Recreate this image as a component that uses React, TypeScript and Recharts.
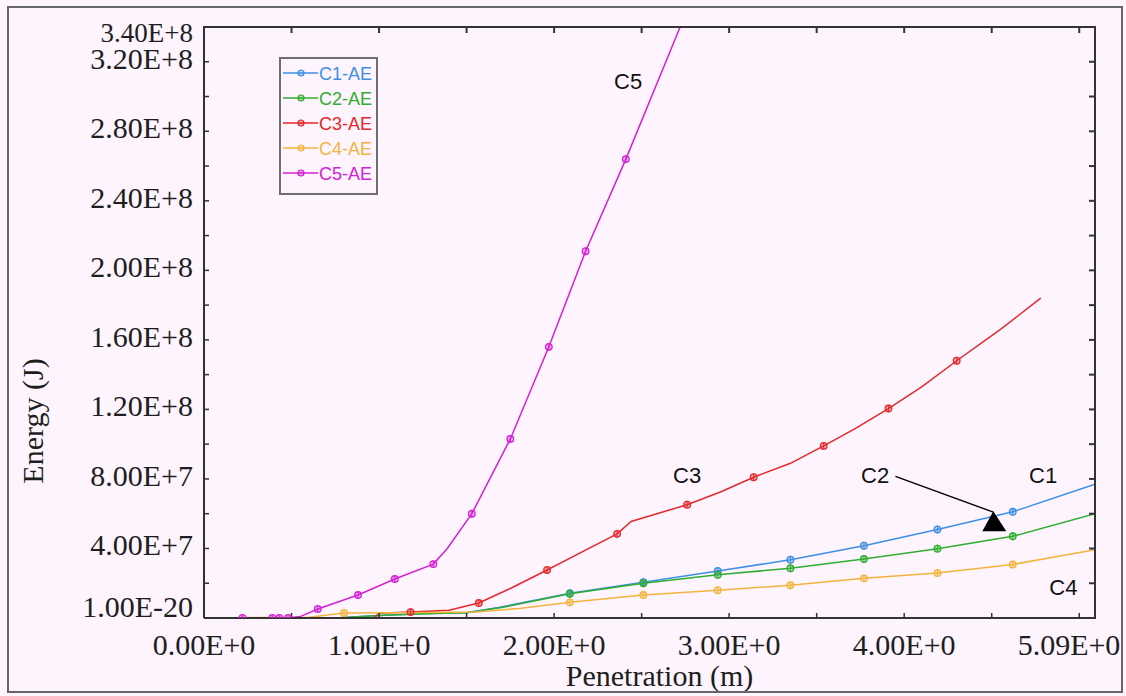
import React from 'react';
import { LineChart, Line, XAxis, YAxis, ReferenceDot, ReferenceLine, Legend } from 'recharts';

// ---------- axis ticks / labels ----------
const X_MAX = 5.09;
const Y_MAX = 340;
const X_TICKS = [0, 0.5, 1, 1.5, 2, 2.5, 3, 3.5, 4, 4.5, 5, 5.09];
const X_LABEL_AT = [0, 1, 2, 3, 4, 5.09];
const X_LABEL_TEXT = ['0.00E+0', '1.00E+0', '2.00E+0', '3.00E+0', '4.00E+0', '5.09E+0'];
// energy values in units of 1E6 J
const Y_TICKS = [0, 20, 40, 60, 80, 100, 120, 140, 160, 180, 200, 220, 240, 260, 280, 300, 320, 340];
const Y_LABEL_AT = [0, 40, 80, 120, 160, 200, 240, 280, 320, 340];
const Y_LABEL_TEXT = ['1.00E-20', '4.00E+7', '8.00E+7', '1.20E+8', '1.60E+8', '2.00E+8', '2.40E+8', '2.80E+8', '3.20E+8', '3.40E+8'];

// ---------- series (penetration m, energy 1E6 J) ----------
const C1 = [[0, 0], [0.75, 0], [1.0, 1.5], [1.25, 2.5], [1.5, 3], [1.68, 6], [2.09, 14.3], [2.51, 20.6], [2.935, 27], [3.35, 33.5], [3.77, 41.6], [4.19, 50.9], [4.62, 61.1], [5.09, 77]];
const C1_MARKS = [2.09, 2.51, 2.935, 3.35, 3.77, 4.19, 4.62];
const C2 = [[0, 0], [0.75, 0], [1.0, 1.5], [1.25, 2.5], [1.5, 3], [1.7, 6], [2.09, 13.9], [2.51, 20], [2.935, 24.9], [3.35, 28.6], [3.77, 33.9], [4.19, 39.9], [4.62, 47], [5.09, 60]];
const C2_MARKS = [2.09, 2.51, 2.935, 3.35, 3.77, 4.19, 4.62];
const C3 = [[0, 0], [0.97, 0], [1.0, 2.8], [1.18, 3.4], [1.4, 4.5], [1.57, 8.6], [1.75, 17], [1.96, 27.6], [2.16, 38], [2.36, 48.4], [2.44, 55.5], [2.76, 65.2], [2.95, 72.5], [3.14, 81], [3.35, 89], [3.54, 99], [3.72, 109], [3.91, 120.5], [4.1, 133], [4.3, 148], [4.55, 166], [4.78, 184]];
const C3_MARKS = [1.18, 1.57, 1.96, 2.36, 2.76, 3.14, 3.54, 3.91, 4.3];
const C4 = [[0, 0], [0.6, 0.5], [0.8, 2.9], [1.05, 3], [1.3, 3.2], [1.55, 3.5], [1.8, 5.5], [2.09, 9], [2.51, 13.2], [2.935, 16], [3.35, 18.8], [3.77, 22.8], [4.19, 25.9], [4.62, 30.8], [5.09, 39.3]];
const C4_MARKS = [0.8, 2.09, 2.51, 2.935, 3.35, 3.77, 4.19, 4.62];
const C5 = [[0, 0], [0.22, 0], [0.39, 0], [0.43, 0], [0.48, 0], [0.55, 0.8], [0.65, 5.2], [0.88, 13.2], [1.09, 22.4], [1.31, 31], [1.39, 40], [1.53, 60], [1.75, 103], [1.97, 156], [2.18, 211], [2.41, 264], [2.72, 340], [2.9, 385]];
const C5_MARKS = [0.22, 0.39, 0.43, 0.48, 0.65, 0.88, 1.09, 1.31, 1.53, 1.75, 1.97, 2.18, 2.41];

const SERIES_NAMES = ['C1-AE', 'C2-AE', 'C3-AE', 'C4-AE', 'C5-AE'];
const SERIES_COLORS = ['#3f8fe4', '#2fae2f', '#e2292b', '#f3b43e', '#d322d3'];
const SERIES_DATA = [C1, C2, C3, C4, C5];
const SERIES_MARKS = [C1_MARKS, C2_MARKS, C3_MARKS, C4_MARKS, C5_MARKS];

// ---------- annotations ----------
const ANNOT_TEXT = ['C5', 'C3', 'C2', 'C1', 'C4'];
const ANNOT_X = [2.423, 2.76, 3.834, 4.794, 4.909];
const ANNOT_Y = [309, 82, 82, 82, 18];
const ARROW_FROM = { x: 3.95, y: 81.5 };
const ARROW_TO = { x: 4.509, y: 60.9 };

const BG = '#fdf4fd';
const SERIF = '"Liberation Serif", "Times New Roman", serif';
const SANS = '"Liberation Sans", Arial, sans-serif';
const AXIS_STROKE = '#333';

// chart box
const W = 1126;
const H = 696;
const MARGIN = { top: 27, right: 31, left: 203, bottom: 77 };
const PLOT_L = MARGIN.left + 1;
const PLOT_T = MARGIN.top;
const PLOT_R = W - MARGIN.right;
const PLOT_B = H - MARGIN.bottom - 1;

const toPts = (arr: number[][]) => arr.map(([x, y]) => ({ x, y }));

const makeDot = (color: string, marks: number[]) => (p: any) => {
  const key = `d-${p.index}`;
  if (!p.payload || !marks.includes(p.payload.x) || p.cy == null) return <g key={key} />;
  return (
    <g key={key}>
      <circle cx={p.cx} cy={p.cy} r={3.3} fill={color} fillOpacity={0.35} stroke={color} strokeWidth={1.3} />
      <line x1={p.cx} x2={p.cx} y1={p.cy - 4} y2={p.cy + 4} stroke={color} strokeWidth={1} />
    </g>
  );
};

const YTick = (props: any) => {
  const { x, y, payload } = props;
  const i = Y_LABEL_AT.indexOf(payload.value);
  if (i < 0) return <g />;
  const last = i === Y_LABEL_AT.length - 1;
  let dy = 7;
  if (i === 0) dy = -1;
  if (last) dy = 15;
  return (
    <text x={x} y={y + dy} textAnchor="end" fontFamily={SERIF} fontSize={last ? 27 : 30} fill="#1e1e1e">
      {Y_LABEL_TEXT[i]}
    </text>
  );
};

const XTick = (props: any) => {
  const { x, y, payload } = props;
  const i = X_LABEL_AT.indexOf(payload.value);
  if (i < 0) return <g />;
  const dx = i === X_LABEL_AT.length - 1 ? -26 : 0;
  return (
    <text x={x + dx} y={y + 37} textAnchor="middle" fontFamily={SERIF} fontSize={30} fill="#1e1e1e">
      {X_LABEL_TEXT[i]}
    </text>
  );
};

const LegendBox = () => (
  <svg width={99} height={138} style={{ display: 'block' }}>
    <rect x={1} y={1} width={97} height={136} fill={BG} stroke="#6e6e6e" strokeWidth={2} />
    {SERIES_NAMES.map((name, i) => {
      const cy = 16 + i * 25;
      const c = SERIES_COLORS[i];
      return (
        <g key={name}>
          <line x1={4} x2={39} y1={cy} y2={cy} stroke={c} strokeWidth={1.5} />
          <circle cx={22} cy={cy} r={3} fill={c} fillOpacity={0.4} stroke={c} strokeWidth={1.2} />
          <text x={40} y={cy + 6.5} fill={c} fontSize={18} fontFamily={SANS}>{name}</text>
        </g>
      );
    })}
  </svg>
);

// inward ticks on the top and right edges of the plot frame
const FrameTicks = () => {
  const sx = (v: number) => PLOT_L + (v / X_MAX) * (PLOT_R - PLOT_L);
  const sy = (v: number) => PLOT_B - (v / Y_MAX) * (PLOT_B - PLOT_T);
  return (
    <svg width={W} height={H} style={{ position: 'absolute', left: 0, top: 0, pointerEvents: 'none' }}>
      {X_TICKS.map((t) => (
        <line key={`tx${t}`} x1={sx(t)} x2={sx(t)} y1={PLOT_T} y2={PLOT_T + 6} stroke={AXIS_STROKE} strokeWidth={2} />
      ))}
      {Y_TICKS.map((t) => (
        <line key={`ty${t}`} x1={PLOT_R} x2={PLOT_R - 6} y1={sy(t)} y2={sy(t)} stroke={AXIS_STROKE} strokeWidth={2} />
      ))}
    </svg>
  );
};

export default function App() {
  return (
    <div style={{ position: 'absolute', left: 0, top: 0, width: W, height: H, background: BG, overflow: 'hidden' }}>
      <LineChart width={W} height={H} margin={MARGIN}>
        <XAxis
          type="number"
          dataKey="x"
          domain={[0, X_MAX]}
          ticks={X_TICKS}
          allowDataOverflow
          height={1}
          tickSize={-5}
          tickMargin={5}
          interval={0}
          tick={<XTick />}
          axisLine={{ stroke: AXIS_STROKE, strokeWidth: 2 }}
          tickLine={{ stroke: AXIS_STROKE, strokeWidth: 1.5 }}
          label={{
            content: (p: any) => {
              const vb = p.viewBox || { x: 204, y: 618, width: 891 };
              return (
                <text x={vb.x + vb.width / 2 + 10} y={vb.y + 68} textAnchor="middle" fontFamily={SERIF} fontSize={30} fill="#1e1e1e">
                  Penetration (m)
                </text>
              );
            },
          }}
        />
        <YAxis
          type="number"
          domain={[0, Y_MAX]}
          ticks={Y_TICKS}
          allowDataOverflow
          width={1}
          tickSize={-5}
          tickMargin={16}
          interval={0}
          tick={<YTick />}
          axisLine={{ stroke: AXIS_STROKE, strokeWidth: 2 }}
          tickLine={{ stroke: AXIS_STROKE, strokeWidth: 1.5 }}
          label={{
            content: (p: any) => {
              const vb = p.viewBox || { x: 204, y: 27, height: 591 };
              const cx = 43;
              const cy = vb.y + 394;
              return (
                <text x={cx} y={cy} transform={`rotate(-90, ${cx}, ${cy})`} textAnchor="middle" fontFamily={SERIF} fontSize={30} fill="#1e1e1e">
                  Energy (J)
                </text>
              );
            },
          }}
        />
        {SERIES_DATA.map((d, i) => (
          <Line
            key={SERIES_NAMES[i]}
            name={SERIES_NAMES[i]}
            data={toPts(d)}
            dataKey="y"
            type="linear"
            stroke={SERIES_COLORS[i]}
            strokeWidth={1.5}
            dot={makeDot(SERIES_COLORS[i], SERIES_MARKS[i])}
            activeDot={false}
            isAnimationActive={false}
          />
        ))}
        {ANNOT_TEXT.map((t, i) => (
          <ReferenceDot
            key={t}
            x={ANNOT_X[i]}
            y={ANNOT_Y[i]}
            r={0}
            ifOverflow="visible"
            shape={(p: any) => (
              <text x={p.cx} y={p.cy + 8} textAnchor="middle" fontFamily={SANS} fontSize={22} fill="#111">
                {t}
              </text>
            )}
          />
        ))}
        <ReferenceLine segment={[ARROW_FROM, ARROW_TO]} stroke="#000" strokeWidth={1.4} ifOverflow="visible" />
        <ReferenceDot
          x={ARROW_TO.x}
          y={ARROW_TO.y}
          r={0}
          ifOverflow="visible"
          shape={(p: any) => (
            <polygon points={`${p.cx},${p.cy - 1} ${p.cx - 11},${p.cy + 19} ${p.cx + 13},${p.cy + 19}`} fill="#000" />
          )}
        />
        <Legend
          layout="vertical"
          align="center"
          verticalAlign="middle"
          wrapperStyle={{ left: 279, top: 57, width: 99, height: 138 }}
          content={() => <LegendBox />}
        />
      </LineChart>
      <FrameTicks />
      {/* top and right edges of the plot frame */}
      <div
        style={{
          position: 'absolute',
          left: PLOT_L - 1,
          top: PLOT_T - 1,
          width: PLOT_R - PLOT_L + 2,
          height: PLOT_B - PLOT_T + 2,
          borderTop: '2px solid #333',
          borderRight: '2px solid #333',
          boxSizing: 'border-box',
          pointerEvents: 'none',
        }}
      />
      <div style={{ position: 'absolute', left: 7, top: 6, width: 1116, height: 687, border: '2px solid #666', boxSizing: 'border-box', pointerEvents: 'none' }} />
    </div>
  );
}
